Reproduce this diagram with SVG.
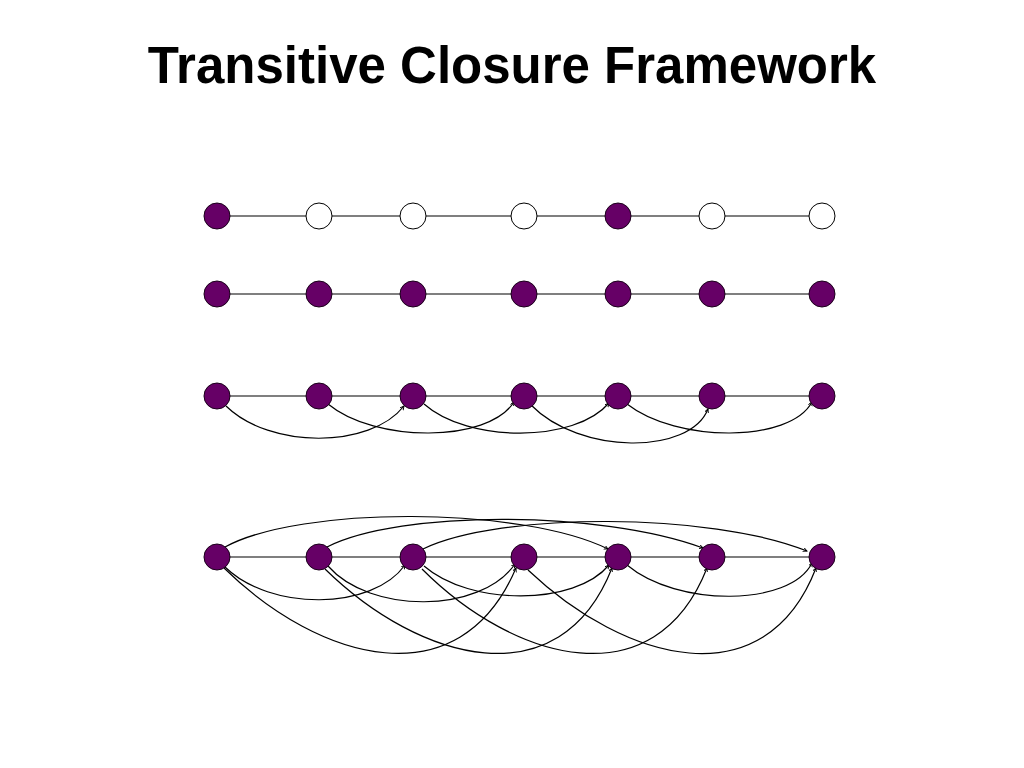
<svg xmlns="http://www.w3.org/2000/svg" width="1024" height="768" viewBox="0 0 1024 768">
<defs>
<style>
.title{font-family:"Liberation Sans",Arial,sans-serif;font-weight:bold;font-size:51px;fill:#000}
.ln{stroke:#000;stroke-width:1.2;fill:none}
.cv{stroke:#000;stroke-width:1.2;fill:none;marker-end:url(#ah)}
.on{fill:#660066;stroke:#1a001a;stroke-width:1}
.off{fill:#fff;stroke:#000;stroke-width:1}
</style>
<marker id="ah" markerUnits="userSpaceOnUse" markerWidth="6" markerHeight="6" refX="4" refY="2" orient="auto">
<path d="M0,0 L4,2 L0,4" fill="none" stroke="#000" stroke-width="0.9"/>
</marker>
</defs>
<rect width="1024" height="768" fill="#fff"/>
<text class="title" x="512" y="83" text-anchor="middle">Transitive Closure Framework</text>

<g id="connectors">
<line class="ln" x1="217" y1="216" x2="822" y2="216"/>
<line class="ln" x1="217" y1="294" x2="822" y2="294"/>
<line class="ln" x1="217" y1="396" x2="822" y2="396"/>
<line class="ln" x1="217" y1="557" x2="822" y2="557"/>
<path class="cv" d="M226,406 C270,449 370,449 404,406"/>
<path class="cv" d="M328,404 C375,443 488,443 514,402"/>
<path class="cv" d="M424,404 C468,443 575,443 609,403"/>
<path class="cv" d="M531,405 C580,455 690,455 708,409"/>
<path class="cv" d="M627,404 C677,443 790,443 812,402"/>
<path class="cv" d="M225,547 C300,506 520,506 608,549"/>
<path class="cv" d="M327,547 C400,510 600,510 703,548"/>
<path class="cv" d="M423,549 C500,512 710,512 807,551"/>
<path class="cv" d="M225,567 C270,611 372,611 405,565"/>
<path class="cv" d="M328,566 C370,614 480,614 515,564"/>
<path class="cv" d="M424,566 C470,606 575,606 609,565"/>
<path class="cv" d="M627,565 C677,607 790,607 812,563"/>
<path class="cv" d="M224,568 C320,662 460,700 516,568"/>
<path class="cv" d="M325,569 C420,662 560,700 612,568"/>
<path class="cv" d="M422,569 C515,662 655,700 707,568"/>
<path class="cv" d="M528,570 C625,662 765,700 816,568"/>
</g>

<g id="row1">
<circle id="r1n0" class="on" cx="217" cy="216" r="13"/>
<circle id="r1n1" class="off" cx="319" cy="216" r="13"/>
<circle id="r1n2" class="off" cx="413" cy="216" r="13"/>
<circle id="r1n3" class="off" cx="524" cy="216" r="13"/>
<circle id="r1n4" class="on" cx="618" cy="216" r="13"/>
<circle id="r1n5" class="off" cx="712" cy="216" r="13"/>
<circle id="r1n6" class="off" cx="822" cy="216" r="13"/>
</g>
<g id="row2">
<circle id="r2n0" class="on" cx="217" cy="294" r="13"/>
<circle id="r2n1" class="on" cx="319" cy="294" r="13"/>
<circle id="r2n2" class="on" cx="413" cy="294" r="13"/>
<circle id="r2n3" class="on" cx="524" cy="294" r="13"/>
<circle id="r2n4" class="on" cx="618" cy="294" r="13"/>
<circle id="r2n5" class="on" cx="712" cy="294" r="13"/>
<circle id="r2n6" class="on" cx="822" cy="294" r="13"/>
</g>
<g id="row3">
<circle id="r3n0" class="on" cx="217" cy="396" r="13"/>
<circle id="r3n1" class="on" cx="319" cy="396" r="13"/>
<circle id="r3n2" class="on" cx="413" cy="396" r="13"/>
<circle id="r3n3" class="on" cx="524" cy="396" r="13"/>
<circle id="r3n4" class="on" cx="618" cy="396" r="13"/>
<circle id="r3n5" class="on" cx="712" cy="396" r="13"/>
<circle id="r3n6" class="on" cx="822" cy="396" r="13"/>
</g>
<g id="row4">
<circle id="r4n0" class="on" cx="217" cy="557" r="13"/>
<circle id="r4n1" class="on" cx="319" cy="557" r="13"/>
<circle id="r4n2" class="on" cx="413" cy="557" r="13"/>
<circle id="r4n3" class="on" cx="524" cy="557" r="13"/>
<circle id="r4n4" class="on" cx="618" cy="557" r="13"/>
<circle id="r4n5" class="on" cx="712" cy="557" r="13"/>
<circle id="r4n6" class="on" cx="822" cy="557" r="13"/>
</g>
</svg>
